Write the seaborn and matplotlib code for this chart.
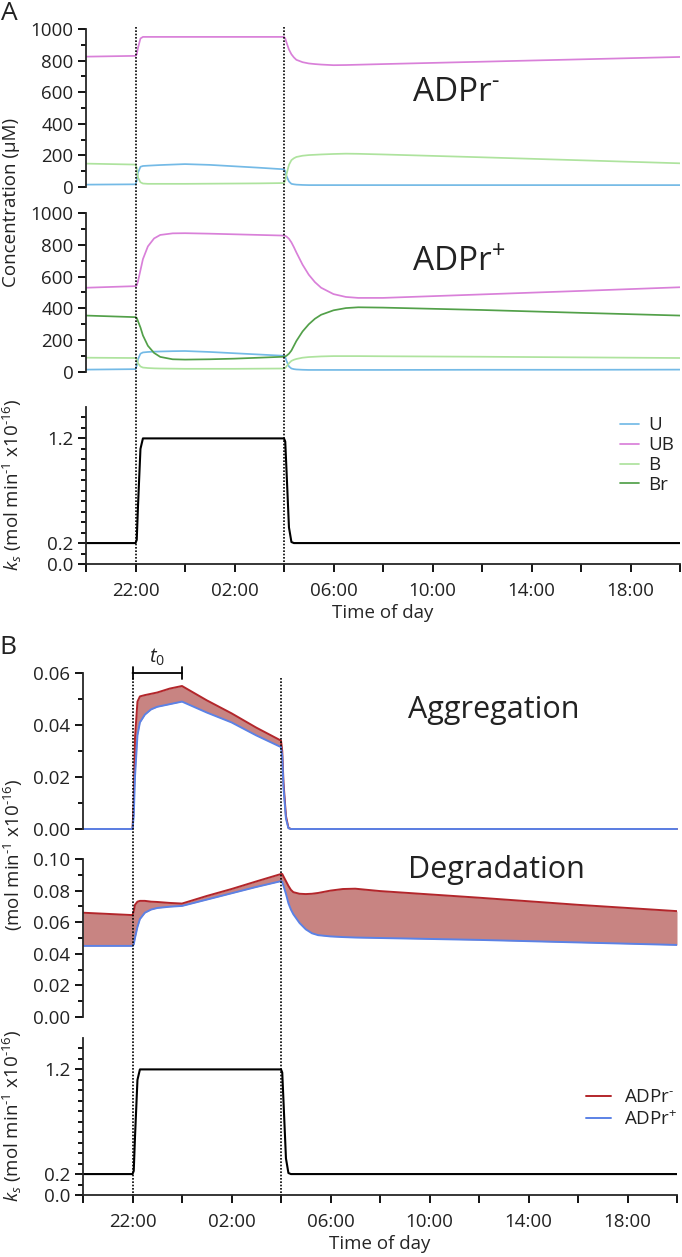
import matplotlib
matplotlib.use("Agg")
import matplotlib.pyplot as plt
import seaborn as sns
from matplotlib.lines import Line2D
from matplotlib.transforms import blended_transform_factory
from matplotlib.ticker import FixedLocator

# ---------------- data (hours after 20:00) ----------------
TIME_H = [0, 2, 2.05, 2.1, 2.2, 2.3, 2.5, 2.75, 3, 3.5, 4, 5, 6, 7, 8,
          8.05, 8.1, 8.2, 8.3, 8.4, 8.5, 8.75, 9, 9.25, 9.5, 10, 10.5, 11, 12, 16, 20, 24]

KS = [0.2, 0.2, 0.23, 0.55, 1.1, 1.2, 1.2, 1.2, 1.2, 1.2, 1.2, 1.2, 1.2, 1.2, 1.2,
      1.17, 0.9, 0.35, 0.21, 0.2, 0.2, 0.2, 0.2, 0.2, 0.2, 0.2, 0.2, 0.2, 0.2, 0.2, 0.2, 0.2]

# Panel A, ADPr-
U_MINUS = [15, 17, 40, 90, 128, 133, 135, 137, 139, 142, 145, 140, 131, 122, 112,
           100, 70, 35, 20, 17, 15, 13, 12, 12, 12, 12, 12, 12, 12, 12, 12, 12]
UB_MINUS = [825, 830, 840, 880, 940, 950, 950, 950, 950, 950, 950, 950, 950, 950, 950,
            940, 915, 870, 840, 820, 805, 790, 782, 778, 775, 771, 772, 774, 778, 793, 808, 823]
B_MINUS = [148, 142, 120, 60, 30, 22, 20, 20, 20, 20, 20, 21, 22, 23, 25,
           40, 80, 140, 170, 182, 190, 198, 202, 204, 206, 209, 211, 210, 206, 188, 169, 150]

# Panel A, ADPr+
U_PLUS = [15, 18, 40, 80, 115, 123, 126, 128, 129, 131, 132, 126, 118, 110, 102,
          95, 70, 35, 22, 18, 16, 14, 13, 13, 13, 13, 13, 13, 13, 14, 14, 15]
UB_PLUS = [530, 540, 545, 570, 640, 710, 790, 840, 862, 872, 873, 870, 866, 862, 858,
           856, 852, 838, 815, 785, 752, 675, 612, 565, 530, 490, 472, 466, 466, 488, 510, 533]
B_PLUS = [90, 88, 80, 55, 35, 28, 25, 23, 22, 21, 20, 20, 20, 21, 22,
          25, 35, 55, 70, 77, 82, 90, 94, 96, 98, 100, 100, 100, 99, 96, 92, 88]
BR_PLUS = [355, 345, 340, 320, 280, 230, 165, 120, 95, 80, 78, 80, 84, 90, 96,
           98, 102, 115, 135, 165, 195, 255, 300, 335, 360, 388, 402, 407, 405, 390, 372, 355]

# Panel B
AGG_MINUS = [0, 0, 0.01, 0.035, 0.049, 0.051, 0.0515, 0.052, 0.0525, 0.054, 0.055, 0.0495, 0.0445, 0.039, 0.034,
             0.03, 0.018, 0.005, 0.0005, 0, 0, 0, 0, 0, 0, 0, 0, 0, 0, 0, 0, 0]
AGG_PLUS = [0, 0, 0.005, 0.02, 0.036, 0.041, 0.044, 0.046, 0.047, 0.048, 0.049, 0.0448, 0.041, 0.036, 0.0315,
            0.028, 0.016, 0.004, 0.0003, 0, 0, 0, 0, 0, 0, 0, 0, 0, 0, 0, 0, 0]
DEG_MINUS = [0.066, 0.0645, 0.067, 0.071, 0.073, 0.0735, 0.0735, 0.073, 0.0728, 0.0722, 0.0718, 0.0766, 0.081, 0.0858, 0.0905,
             0.0905, 0.089, 0.086, 0.083, 0.0805, 0.079, 0.078, 0.0778, 0.078, 0.0785, 0.080, 0.081, 0.0812, 0.0797, 0.0755, 0.071, 0.067]
DEG_PLUS = [0.045, 0.045, 0.046, 0.05, 0.057, 0.062, 0.066, 0.068, 0.069, 0.0698, 0.0703, 0.0743, 0.0783, 0.0823, 0.086,
            0.0855, 0.083, 0.078, 0.072, 0.068, 0.065, 0.0595, 0.0555, 0.053, 0.0518, 0.051, 0.0506, 0.0503, 0.050, 0.0488, 0.0472, 0.0456]

LIGHT_SWITCH = [2, 8]          # 22:00 and 04:00
T0_SPAN = [2, 4]               # 22:00 -> 00:00
XTICKS = [0, 2, 4, 6, 8, 10, 12, 14, 16, 18, 20, 22, 24]
XTICK_LABELS = ["", "22:00", "", "02:00", "", "06:00", "", "10:00", "", "14:00", "", "18:00", ""]
SERIES_LABELS_A = ["U", "UB", "B", "Br"]
SERIES_LABELS_B = [r"ADPr$^{\text{-}}$", r"ADPr$^{+}$"]

C_U, C_UB, C_B, C_BR = "#74bae6", "#d980d9", "#aee39e", "#52a049"
C_MINUS, C_PLUS, C_FILL = "#b3262b", "#5b82e6", "#c88482"

# ---------------- style ----------------
sns.set_style("ticks")
plt.rcParams['font.family'] = ['Open Sans', 'DejaVu Sans']
plt.rcParams['mathtext.fontset'] = 'custom'
plt.rcParams['mathtext.rm'] = 'Open Sans'
plt.rcParams['mathtext.it'] = 'Open Sans:italic'
plt.rcParams['mathtext.bf'] = 'Open Sans:bold'
plt.rcParams['axes.linewidth'] = 1.3
plt.rcParams['text.color'] = '#222222'

FS = 13.5
W, H = 682, 1257
fig = plt.figure(figsize=(W / 100, H / 100), dpi=100)
fig.patch.set_facecolor('white')


def add_ax(x0, x1, ytop, ybot):
    ax = fig.add_axes([x0 / W, 1 - ybot / H, (x1 - x0) / W, (ybot - ytop) / H])
    ax.patch.set_alpha(0)
    return ax


def style(ax, ylim, major, minor, fmt, show_x):
    ax.set_xlim(0, 24)
    ax.set_ylim(*ylim)
    ax.yaxis.set_major_locator(FixedLocator(major))
    ax.yaxis.set_minor_locator(FixedLocator(minor))
    ax.set_yticklabels([fmt.format(v) for v in major])
    ax.spines['top'].set_visible(False)
    ax.spines['right'].set_visible(False)
    ax.tick_params(axis='y', which='major', length=6, width=1.3, labelsize=FS, pad=3,
                   direction='out', colors='black', labelcolor='#222222')
    ax.tick_params(axis='y', which='minor', length=3.5, width=1.3, direction='out', colors='black')
    ax.set_ylabel('')
    if show_x:
        ax.set_xticks(XTICKS)
        ax.set_xticklabels(XTICK_LABELS)
        ax.tick_params(axis='x', which='major', length=6, width=1.3, labelsize=FS, pad=7,
                       direction='out', colors='black', labelcolor='#222222')
        ax.set_xlabel('Time of day', fontsize=FS, labelpad=3)
    else:
        ax.spines['bottom'].set_visible(False)
        ax.tick_params(axis='x', which='both', bottom=False, labelbottom=False)
        ax.set_xlabel('')


axA1 = add_ax(86, 680, 29, 187)
axA2 = add_ax(86, 680, 213, 372)
axA3 = add_ax(86, 680, 407, 564)
axB1 = add_ax(83, 677, 673, 829)
axB2 = add_ax(83, 677, 859, 1017)
axB3 = add_ax(83, 677, 1038, 1195)

lw_a = 1.25
# Panel A top: ADPr-
for y, c, lab in [(U_MINUS, C_U, "U"), (UB_MINUS, C_UB, "UB"), (B_MINUS, C_B, "B")]:
    sns.lineplot(x=TIME_H, y=y, color=c, lw=lw_a, ax=axA1, legend=False, label=lab)
# Panel A middle: ADPr+
for y, c, lab in zip([U_PLUS, UB_PLUS, B_PLUS, BR_PLUS], [C_U, C_UB, C_B, C_BR], SERIES_LABELS_A):
    sns.lineplot(x=TIME_H, y=y, color=c, lw=lw_a, ax=axA2, legend=False, label=lab)
# ks
sns.lineplot(x=TIME_H, y=KS, color='black', lw=1.5, ax=axA3, legend=False)
sns.lineplot(x=TIME_H, y=KS, color='black', lw=1.5, ax=axB3, legend=False)

# Panel B aggregation / degradation
axB1.fill_between(TIME_H, AGG_PLUS, AGG_MINUS, color=C_FILL, lw=0)
sns.lineplot(x=TIME_H, y=AGG_MINUS, color=C_MINUS, lw=1.4, ax=axB1, legend=False, clip_on=False)
sns.lineplot(x=TIME_H, y=AGG_PLUS, color=C_PLUS, lw=1.4, ax=axB1, legend=False, clip_on=False)
axB2.fill_between(TIME_H, DEG_PLUS, DEG_MINUS, color=C_FILL, lw=0)
sns.lineplot(x=TIME_H, y=DEG_MINUS, color=C_MINUS, lw=1.4, ax=axB2, legend=False, label=SERIES_LABELS_B[0])
sns.lineplot(x=TIME_H, y=DEG_PLUS, color=C_PLUS, lw=1.4, ax=axB2, legend=False, label=SERIES_LABELS_B[1])

conc_major = [0, 200, 400, 600, 800, 1000]
conc_minor = list(range(100, 1000, 200))
ks_major = [0.0, 0.2, 1.2]
ks_minor = [0.1, 0.3, 0.4, 0.5, 0.6, 0.7, 0.8, 0.9, 1.0, 1.1, 1.3, 1.4]
style(axA1, (0, 1000), conc_major, conc_minor, "{:.0f}", False)
style(axA2, (0, 1000), conc_major, conc_minor, "{:.0f}", False)
style(axA3, (0, 1.5), ks_major, ks_minor, "{:.1f}", True)
style(axB1, (0, 0.06), [0, 0.02, 0.04, 0.06], [0.01, 0.03, 0.05], "{:.2f}", False)
style(axB2, (0, 0.10), [0, 0.02, 0.04, 0.06, 0.08, 0.10], [0.01, 0.03, 0.05, 0.07, 0.09], "{:.2f}", False)
style(axB3, (0, 1.5), ks_major, ks_minor, "{:.1f}", True)

# legends
hA, lA = axA2.get_legend_handles_labels()
axA3.legend(hA, lA, loc='upper right', bbox_to_anchor=(0.99, 0.94), frameon=False, fontsize=FS,
            handlelength=1.0, handletextpad=0.5, labelspacing=0.1, borderpad=0, borderaxespad=0)
hB, lB = axB2.get_legend_handles_labels()
axB3.legend(hB, lB, loc='upper right', bbox_to_anchor=(1.0, 0.68), frameon=False, fontsize=FS,
            handlelength=1.3, handletextpad=0.7, labelspacing=0.2, borderpad=0, borderaxespad=0)

# annotations inside panels
axA1.text(0.549, 0.60, r"ADPr$^{\text{-}}$", transform=axA1.transAxes, fontsize=24, va='center', ha='left')
axA2.text(0.549, 0.686, r"ADPr$^{+}$", transform=axA2.transAxes, fontsize=24, va='center', ha='left')
axB1.text(0.547, 0.763, "Aggregation", transform=axB1.transAxes, fontsize=22, va='center', ha='left')
axB2.text(0.547, 0.93, "Degradation", transform=axB2.transAxes, fontsize=22, va='center', ha='left')

# t0 bracket
axB1.annotate('', xy=(T0_SPAN[0], 0.06), xytext=(T0_SPAN[1], 0.06),
              arrowprops=dict(arrowstyle='|-|,widthA=0.4,widthB=0.4', lw=1.3, color='black',
                              shrinkA=0, shrinkB=0), annotation_clip=False)
axB1.annotate(r"$\mathit{t}_{\mathit{0}}$", xy=(sum(T0_SPAN) / 2, 0.06), xytext=(0, 11),
              textcoords='offset points', ha='center', va='center', fontsize=14.5, annotation_clip=False)

# dotted light-switch lines spanning the stacked axes
trA = blended_transform_factory(axA3.transData, fig.transFigure)
trB = blended_transform_factory(axB3.transData, fig.transFigure)
for h in LIGHT_SWITCH:
    fig.add_artist(Line2D([h, h], [1 - 27 / H, 1 - 564 / H], transform=trA, color='black',
                          lw=1.2, ls=(0, (1, 1))))
    fig.add_artist(Line2D([h, h], [1 - 678 / H, 1 - 1195 / H], transform=trB, color='black',
                          lw=1.2, ls=(0, (1, 1))))

# y-axis labels and panel letters
fig.text(11 / W, 1 - 202 / H, "Concentration (μM)", rotation=90, ha='center', va='center', fontsize=FS)
ks_label = r"$\mathit{k}_{\mathit{s}}$ (mol min$^{\text{-}1}$ x10$^{\text{-}16}$)"
fig.text(12 / W, 1 - 485 / H, ks_label, rotation=90, ha='center', va='center', fontsize=FS)
fig.text(12 / W, 1 - 1116 / H, ks_label, rotation=90, ha='center', va='center', fontsize=FS)
fig.text(13 / W, 1 - 855 / H, r"(mol min$^{\text{-}1}$ x10$^{\text{-}16}$)", rotation=90,
         ha='center', va='center', fontsize=FS)
fig.text(9 / W, 1 - 13 / H, "A", ha='center', va='center', fontsize=19)
fig.text(8 / W, 1 - 647 / H, "B", ha='center', va='center', fontsize=19)

fig.savefig("out.png", dpi=100, facecolor='white')
